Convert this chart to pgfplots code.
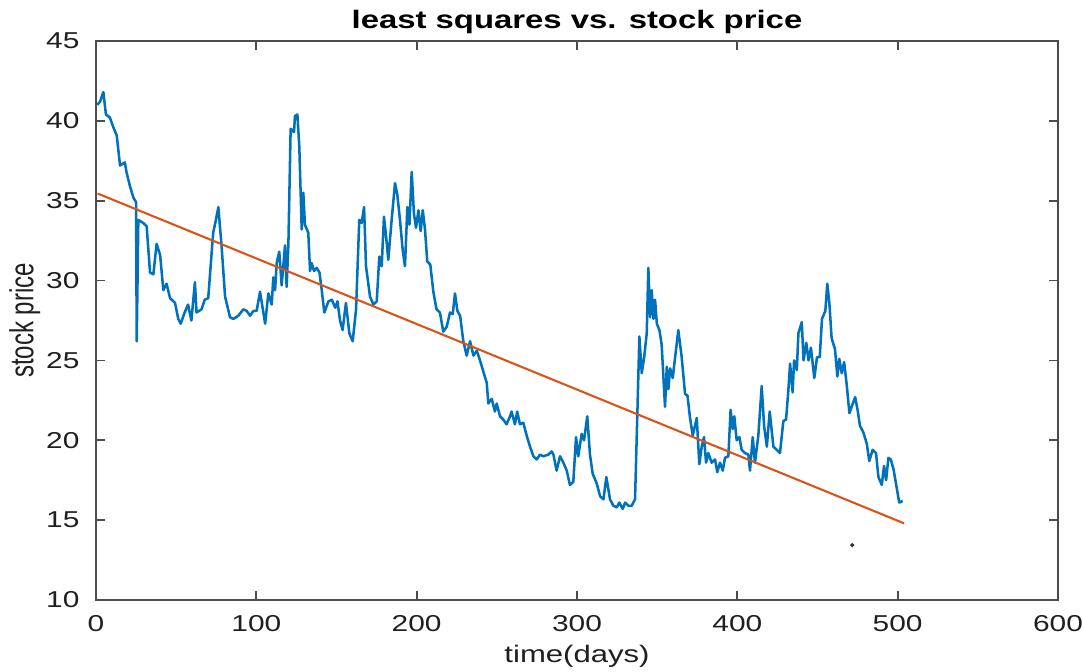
\documentclass[border=0pt]{standalone}
\usepackage{fontspec}
\setmainfont{Liberation Sans}[FakeStretch=1.3]
\newfontfamily\ylabfont{Liberation Sans}[FakeStretch=0.72]
\usepackage{pgfplots}
\pgfplotsset{compat=1.18}
\definecolor{mblue}{rgb}{0,0.447,0.741}
\definecolor{morange}{rgb}{0.85,0.325,0.098}
\definecolor{maxis}{rgb}{0.3,0.3,0.3}
\definecolor{mtext}{rgb}{0.12,0.12,0.12}
\begin{document}
\begin{tikzpicture}
\begin{axis}[
  scale only axis, clip=false,
  width=418.47pt, height=243.17pt,
  xmin=0, xmax=600, ymin=10, ymax=45,
  xtick={0,100,...,600}, ytick={10,15,...,45},
  tick pos=both, tick align=inside,
  major tick length=3.9pt,
  axis line style={maxis, line width=0.8pt},
  every tick/.style={maxis, line width=0.8pt},
  /pgf/number format/assume math mode=true,
  ticklabel style={font=\fontsize{10}{12}\selectfont, text=mtext},
  xticklabel style={anchor=north, inner sep=0pt, yshift=-6.5pt},
  yticklabel style={anchor=east, inner sep=0pt, xshift=-7pt},
  xlabel={time(days)},
  xlabel style={font=\fontsize{10.4}{12}\selectfont, text=mtext, at={(axis description cs:0.5,-0.111)}, anchor=base, inner sep=0pt},
  ylabel={stock price},
  ylabel style={font=\fontsize{14.5}{16}\ylabfont, text=mtext, at={(axis description cs:-0.0651,0.5)}, anchor=base, rotate=0, inner sep=0pt},
]
\addplot[color=mblue, line width=1.1pt, line join=round, mark=none] coordinates {
(0.8,41.0) (2.5,41.2) (4.6,41.8) (6.2,40.4) (8.7,40.2) (10.8,39.6) (12.9,39.1) (15,37.2) (18,37.4) (19,36.8)
(21.2,35.9) (23.3,35.2) (25,34.9) (25.4,26.2) (26.4,33.8) (29.5,33.6) (31.6,33.4) (33.7,30.5) (35.8,30.4) (37.8,32.3)
(40,31.6) (42,29.4) (44,29.8) (46.2,28.9) (49.3,28.6) (51.3,27.6) (52.8,27.3) (55.3,28.0) (57.4,28.5) (59.5,27.5)
(61.7,29.9) (62.7,28.0) (65.8,28.2) (67.8,28.8) (70,28.9) (72.1,31.7) (73.1,33.0) (74.8,33.8) (76.3,34.6) (78.3,32.2)
(80.5,29.0) (83.6,27.7) (85.7,27.6) (88.8,27.8) (91.9,28.2) (94,28.1) (96.1,27.8) (98.2,28.1) (100.2,28.1) (102.3,29.3)
(105.5,27.3) (107.5,29.2) (109.6,28.5) (110.6,30.2) (111.7,29.4) (112.7,31.1) (114.3,31.8) (115.8,29.7) (117.9,32.2) (118.9,29.6)
(120,32.3) (121.4,39.5) (123.5,39.3) (124.1,40.3) (125.6,40.4) (126.8,38.4) (128.3,33.2) (129.3,35.5) (130.3,33.5) (132.4,33.0)
(133.5,30.6) (134.5,31.1) (136,30.6) (137.7,30.8) (139.4,30.5) (140.8,29.4) (142.4,28.0) (145,28.7) (147.1,28.8) (149.2,28.3)
(150.6,28.7) (152.2,27.5) (153.8,26.9) (155.9,28.6) (158,26.7) (160.1,26.2) (162.2,28.2) (164.2,33.8) (165.7,33.6) (167.2,34.6)
(168.4,30.9) (170.9,29.0) (173,28.5) (175.1,28.7) (176.7,31.5) (178.2,30.9) (179.6,34.0) (180.9,32.8) (182.3,31.3) (184.4,33.8)
(186.5,36.1) (187.9,35.4) (189.6,33.8) (191.3,31.9) (192.7,30.9) (194.2,34.6) (195.5,33.5) (196.9,36.8) (198.3,34.2) (199.6,33.3)
(201.1,34.4) (202.5,33.1) (203.8,34.4) (205.2,33.2) (206.6,31.2) (208.5,31.0) (210.4,29.3) (212.4,28.2) (214.5,28.0) (216.6,26.8)
(218.7,27.1) (220.8,28.0) (222.5,27.9) (223.9,29.2) (225.4,28.1) (227.1,27.8) (229.1,26.2) (231.2,25.3) (233.3,26.2) (235.4,25.3)
(237.5,25.6) (239.5,25.0) (241.6,24.3) (243.7,23.6) (244.7,22.3) (246.8,22.6) (248.8,21.8) (249.9,22.3) (252,21.5) (254,21.3)
(256.1,21.0) (258.2,21.5) (259.2,21.8) (261.3,21.0) (262.7,21.8) (264.4,21.0) (266.5,21.1) (268.6,20.3) (270.7,19.6) (272.8,19.0)
(274.9,18.8) (276.9,19.1) (279,19.0) (282.1,19.1) (284.2,19.3) (285.3,19.1) (287.3,18.1) (289.4,19.0) (291.5,18.6) (293.6,18.1)
(295.6,17.2) (297.7,17.4) (299.4,20.2) (300.8,19.0) (302.9,20.4) (304.4,20.0) (306.4,21.5) (308.1,19.1) (309.8,17.9) (312.3,17.3)
(314.4,16.5) (316.5,16.3) (318.3,17.7) (320.6,16.3) (322.7,15.9) (324.8,15.8) (326.4,16.1) (328.5,15.7) (330,16.1) (332.1,15.9)
(334.1,15.9) (336.2,16.3) (337.6,21.5) (338.9,26.5) (340.4,24.2) (341.9,25.2) (343.5,26.7) (344.5,30.8) (345.6,27.7) (346.6,29.4)
(347.7,27.6) (348.7,28.8) (349.8,27.3) (351.4,26.9) (352.8,26.0) (354.9,22.1) (356,24.6) (357,23.2) (358.1,24.5) (359.7,23.9)
(361.2,25.2) (363.2,26.9) (365.3,25.2) (367.4,22.9) (368.9,22.8) (370.5,21.4) (372.2,20.3) (374.7,21.4) (376.3,18.5) (377.8,19.6)
(379.2,20.2) (380.5,18.6) (381.9,19.2) (384,18.6) (386.1,18.8) (387.5,18.0) (389.2,18.6) (390.9,18.1) (392.3,18.9) (394.4,19.0)
(395.8,21.9) (397.1,20.7) (398.1,21.5) (399.6,20.0) (401.3,20.2) (402.7,19.4) (404.8,19.2) (406.9,19.1) (407.9,18.1) (409.6,20.2)
(411,18.6) (413.1,20.3) (415.2,23.4) (416.7,20.9) (418.4,19.6) (420.2,21.8) (422.5,19.6) (424.6,19.4) (426.6,19.2) (428.7,21.2)
(430.4,21.3) (431.8,23.1) (432.9,24.8) (434.5,23.0) (435.4,25.0) (437.1,24.4) (438.1,26.7) (440.2,27.4) (441.3,25.0) (443,26.1)
(444.4,25.0) (445.9,25.8) (448,23.9) (449.7,25.2) (451.4,25.2) (452.8,27.6) (454.9,28.1) (456.1,29.8) (457.4,28.6) (458.8,26.4)
(460.9,25.7) (462.4,24.0) (463.6,25.1) (465.1,24.2) (466.6,24.9) (468.2,23.5) (469.9,21.7) (472,22.3) (473.5,22.7) (475,21.9)
(476.5,20.9) (478.6,20.5) (480.7,19.8) (482.3,18.7) (484.4,19.4) (486.5,19.2) (488,17.7) (490.1,17.2) (491.5,18.4) (492.8,17.5)
(494.2,18.9) (495.7,18.8) (497.4,18.2) (499.1,17.2) (501,16.1) (503.1,16.2)
};
\addplot[color=morange, line width=0.9pt, mark=none] coordinates {(1,35.45) (504,14.8)};
\addplot[only marks, mark=*, mark size=0.7pt, color=black!80] coordinates {(471.7,13.44)};
\node[anchor=base, inner sep=0pt, font=\fontsize{11}{13}\selectfont\bfseries, text=black] at (axis description cs:0.5,1.0215) {least squares vs. stock price};
\end{axis}
\pgfresetboundingbox
\path[use as bounding box] (-41.76pt,-31.32pt) rectangle (429.35pt,261pt);
\end{tikzpicture}
\end{document}
